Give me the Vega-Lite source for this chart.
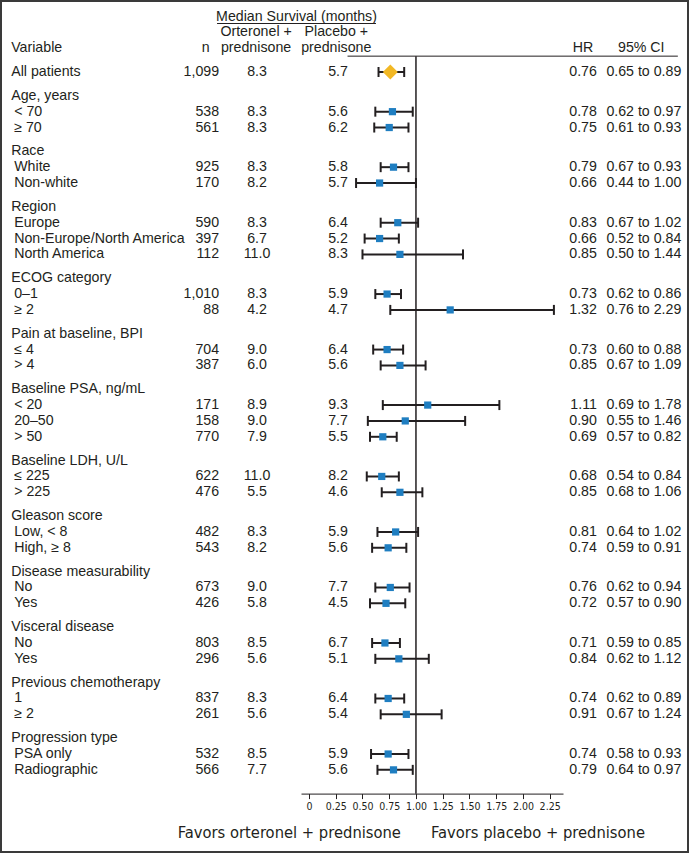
{
  "$schema": "https://vega.github.io/schema/vega-lite/v6.json",
  "width": 689,
  "height": 853,
  "padding": 0,
  "autosize": {"type": "none"},
  "background": "white",
  "config": {
    "view": {"stroke": "#3a3a3a", "strokeWidth": 4},
    "text": {"font": "Liberation Sans", "fontSize": 14.2, "color": "#231f20"}
  },
  "datasets": {
    "rows": [
      {"id": "all", "label": "All patients", "kind": "overall", "n": "1,099", "ort": "8.3", "pla": "5.7", "hr": 0.76, "lo": 0.65, "hi": 0.89, "ci": "0.65 to 0.89"},
      {"id": "age", "label": "Age, years", "kind": "group"},
      {"id": "age_lt70", "label": "< 70", "kind": "item", "n": "538", "ort": "8.3", "pla": "5.6", "hr": 0.78, "lo": 0.62, "hi": 0.97, "ci": "0.62 to 0.97"},
      {"id": "age_ge70", "label": "≥ 70", "kind": "item", "n": "561", "ort": "8.3", "pla": "6.2", "hr": 0.75, "lo": 0.61, "hi": 0.93, "ci": "0.61 to 0.93"},
      {"id": "race", "label": "Race", "kind": "group"},
      {"id": "white", "label": "White", "kind": "item", "n": "925", "ort": "8.3", "pla": "5.8", "hr": 0.79, "lo": 0.67, "hi": 0.93, "ci": "0.67 to 0.93"},
      {"id": "nonwhite", "label": "Non-white", "kind": "item", "n": "170", "ort": "8.2", "pla": "5.7", "hr": 0.66, "lo": 0.44, "hi": 1.00, "ci": "0.44 to 1.00"},
      {"id": "region", "label": "Region", "kind": "group"},
      {"id": "europe", "label": "Europe", "kind": "item", "n": "590", "ort": "8.3", "pla": "6.4", "hr": 0.83, "lo": 0.67, "hi": 1.02, "ci": "0.67 to 1.02"},
      {"id": "noneur", "label": "Non-Europe/North America", "kind": "item", "n": "397", "ort": "6.7", "pla": "5.2", "hr": 0.66, "lo": 0.52, "hi": 0.84, "ci": "0.52 to 0.84"},
      {"id": "na", "label": "North America", "kind": "item", "n": "112", "ort": "11.0", "pla": "8.3", "hr": 0.85, "lo": 0.50, "hi": 1.44, "ci": "0.50 to 1.44"},
      {"id": "ecog", "label": "ECOG category", "kind": "group"},
      {"id": "ecog01", "label": "0–1", "kind": "item", "n": "1,010", "ort": "8.3", "pla": "5.9", "hr": 0.73, "lo": 0.62, "hi": 0.86, "ci": "0.62 to 0.86"},
      {"id": "ecog2", "label": "≥ 2", "kind": "item", "n": "88", "ort": "4.2", "pla": "4.7", "hr": 1.32, "lo": 0.76, "hi": 2.29, "ci": "0.76 to 2.29"},
      {"id": "pain", "label": "Pain at baseline, BPI", "kind": "group"},
      {"id": "pain_le4", "label": "≤ 4", "kind": "item", "n": "704", "ort": "9.0", "pla": "6.4", "hr": 0.73, "lo": 0.60, "hi": 0.88, "ci": "0.60 to 0.88"},
      {"id": "pain_gt4", "label": "> 4", "kind": "item", "n": "387", "ort": "6.0", "pla": "5.6", "hr": 0.85, "lo": 0.67, "hi": 1.09, "ci": "0.67 to 1.09"},
      {"id": "psa", "label": "Baseline PSA, ng/mL", "kind": "group"},
      {"id": "psa_lt20", "label": "< 20", "kind": "item", "n": "171", "ort": "8.9", "pla": "9.3", "hr": 1.11, "lo": 0.69, "hi": 1.78, "ci": "0.69 to 1.78"},
      {"id": "psa_2050", "label": "20–50", "kind": "item", "n": "158", "ort": "9.0", "pla": "7.7", "hr": 0.90, "lo": 0.55, "hi": 1.46, "ci": "0.55 to 1.46"},
      {"id": "psa_gt50", "label": "> 50", "kind": "item", "n": "770", "ort": "7.9", "pla": "5.5", "hr": 0.69, "lo": 0.57, "hi": 0.82, "ci": "0.57 to 0.82"},
      {"id": "ldh", "label": "Baseline LDH, U/L", "kind": "group"},
      {"id": "ldh_le225", "label": "≤ 225", "kind": "item", "n": "622", "ort": "11.0", "pla": "8.2", "hr": 0.68, "lo": 0.54, "hi": 0.84, "ci": "0.54 to 0.84"},
      {"id": "ldh_gt225", "label": "> 225", "kind": "item", "n": "476", "ort": "5.5", "pla": "4.6", "hr": 0.85, "lo": 0.68, "hi": 1.06, "ci": "0.68 to 1.06"},
      {"id": "gleason", "label": "Gleason score", "kind": "group"},
      {"id": "gl_low", "label": "Low, < 8", "kind": "item", "n": "482", "ort": "8.3", "pla": "5.9", "hr": 0.81, "lo": 0.64, "hi": 1.02, "ci": "0.64 to 1.02"},
      {"id": "gl_high", "label": "High, ≥ 8", "kind": "item", "n": "543", "ort": "8.2", "pla": "5.6", "hr": 0.74, "lo": 0.59, "hi": 0.91, "ci": "0.59 to 0.91"},
      {"id": "meas", "label": "Disease measurability", "kind": "group"},
      {"id": "meas_no", "label": "No", "kind": "item", "n": "673", "ort": "9.0", "pla": "7.7", "hr": 0.76, "lo": 0.62, "hi": 0.94, "ci": "0.62 to 0.94"},
      {"id": "meas_yes", "label": "Yes", "kind": "item", "n": "426", "ort": "5.8", "pla": "4.5", "hr": 0.72, "lo": 0.57, "hi": 0.90, "ci": "0.57 to 0.90"},
      {"id": "visc", "label": "Visceral disease", "kind": "group"},
      {"id": "visc_no", "label": "No", "kind": "item", "n": "803", "ort": "8.5", "pla": "6.7", "hr": 0.71, "lo": 0.59, "hi": 0.85, "ci": "0.59 to 0.85"},
      {"id": "visc_yes", "label": "Yes", "kind": "item", "n": "296", "ort": "5.6", "pla": "5.1", "hr": 0.84, "lo": 0.62, "hi": 1.12, "ci": "0.62 to 1.12"},
      {"id": "chemo", "label": "Previous chemotherapy", "kind": "group"},
      {"id": "chemo_1", "label": "1", "kind": "item", "n": "837", "ort": "8.3", "pla": "6.4", "hr": 0.74, "lo": 0.62, "hi": 0.89, "ci": "0.62 to 0.89"},
      {"id": "chemo_2", "label": "≥ 2", "kind": "item", "n": "261", "ort": "5.6", "pla": "5.4", "hr": 0.91, "lo": 0.67, "hi": 1.24, "ci": "0.67 to 1.24"},
      {"id": "prog", "label": "Progression type", "kind": "group"},
      {"id": "prog_psa", "label": "PSA only", "kind": "item", "n": "532", "ort": "8.5", "pla": "5.9", "hr": 0.74, "lo": 0.58, "hi": 0.93, "ci": "0.58 to 0.93"},
      {"id": "prog_radio", "label": "Radiographic", "kind": "item", "n": "566", "ort": "7.7", "pla": "5.6", "hr": 0.79, "lo": 0.64, "hi": 0.97, "ci": "0.64 to 0.97"}
    ],
    "headers": [
      {"id": "h1", "col": "span", "text": "Median Survival (months)"},
      {"id": "h2", "col": "ort", "text": "Orteronel +"},
      {"id": "h2", "col": "pla", "text": "Placebo +"},
      {"id": "h3", "col": "variable", "text": "Variable"},
      {"id": "h3", "col": "n", "text": "n"},
      {"id": "h3", "col": "ort", "text": "prednisone"},
      {"id": "h3", "col": "pla", "text": "prednisone"},
      {"id": "h3", "col": "hr", "text": "HR"},
      {"id": "h3", "col": "ci", "text": "95% CI"}
    ],
    "footer": [
      {"id": "footer", "side": "left", "text": "Favors orteronel + prednisone"},
      {"id": "footer", "side": "right", "text": "Favors placebo + prednisone"}
    ]
  },
  "encoding": {
    "y": {
      "field": "id",
      "type": "nominal",
      "axis": null,
      "scale": {
        "type": "point",
        "padding": 0,
        "range": [16.5, 833.3],
        "domain": ["h1","s1","h2","s3","h3","rule","s6","all","s8","s9","age","s11","age_lt70","s13","age_ge70","s15","s16","race","s18","white","s20","nonwhite","s22","s23","region","s25","europe","s27","noneur","s29","na","s31","s32","ecog","s34","ecog01","s36","ecog2","s38","s39","pain","s41","pain_le4","s43","pain_gt4","s45","s46","psa","s48","psa_lt20","s50","psa_2050","s52","psa_gt50","s54","s55","ldh","s57","ldh_le225","s59","ldh_gt225","s61","s62","gleason","s64","gl_low","s66","gl_high","s68","s69","meas","s71","meas_no","s73","meas_yes","s75","s76","visc","s78","visc_no","s80","visc_yes","s82","s83","chemo","s85","chemo_1","s87","chemo_2","s89","s90","prog","s92","prog_psa","s94","prog_radio","s96","s97","axis","s99","s100","s101","s102","footer"]
      }
    }
  },
  "layer": [
    {
      "data": {"name": "rows"},
      "transform": [{"filter": "datum.kind != 'group'"}],
      "mark": {"type": "rule", "color": "#231f20", "strokeWidth": 2},
      "encoding": {
        "x": {
          "field": "lo",
          "type": "quantitative",
          "scale": {"domain": [-0.075, 2.375], "range": [301, 563], "nice": false, "zero": false, "clamp": false},
          "axis": {
            "values": [0, 0.25, 0.5, 0.75, 1, 1.25, 1.5, 1.75, 2, 2.25],
            "labelExpr": "datum.value == 0 ? '0' : format(datum.value, '.2f')",
            "title": null,
            "grid": false,
            "offset": -59.4,
            "domainColor": "#231f20",
            "domainWidth": 1,
            "tickColor": "#231f20",
            "tickWidth": 1,
            "tickSize": 5,
            "labelFont": "Liberation Sans Narrow, DejaVu Sans Condensed, sans-serif",
            "labelFontSize": 10.5,
            "labelColor": "#231f20",
            "labelPadding": 3
          }
        },
        "x2": {"field": "hi"}
      }
    },
    {
      "data": {"values": [{}]},
      "mark": {"type": "rule", "color": "#231f20", "strokeWidth": 1.5},
      "encoding": {"x": {"datum": 1, "type": "quantitative"}, "y": {"datum": "rule"}, "y2": {"datum": "axis"}}
    },
    {
      "data": {"values": [{}]},
      "mark": {"type": "rule", "color": "#231f20", "strokeWidth": 1},
      "encoding": {"x": {"datum": 0.36, "type": "quantitative"}, "x2": {"datum": 3.449}, "y": {"datum": "rule"}}
    },
    {
      "data": {"values": [{}]},
      "mark": {"type": "rule", "color": "#231f20", "strokeWidth": 1, "yOffset": 7},
      "encoding": {"x": {"datum": -0.86, "type": "quantitative"}, "x2": {"datum": 0.626}, "y": {"datum": "h1"}}
    },
    {
      "data": {"name": "rows"},
      "transform": [{"filter": "datum.kind != 'group'"}],
      "mark": {"type": "tick", "color": "#231f20", "thickness": 2, "size": 10, "opacity": 1},
      "encoding": {"x": {"field": "lo", "type": "quantitative"}}
    },
    {
      "data": {"name": "rows"},
      "transform": [{"filter": "datum.kind != 'group'"}],
      "mark": {"type": "tick", "color": "#231f20", "thickness": 2, "size": 10, "opacity": 1},
      "encoding": {"x": {"field": "hi", "type": "quantitative"}}
    },
    {
      "data": {"name": "rows"},
      "transform": [{"filter": "datum.kind == 'item'"}],
      "mark": {"type": "point", "shape": "square", "filled": true, "color": "#1f7ec1", "size": 52, "opacity": 1},
      "encoding": {"x": {"field": "hr", "type": "quantitative"}}
    },
    {
      "data": {"name": "rows"},
      "transform": [{"filter": "datum.kind == 'overall'"}],
      "mark": {"type": "point", "shape": "diamond", "filled": true, "color": "#f2b824", "size": 225, "opacity": 1},
      "encoding": {"x": {"field": "hr", "type": "quantitative"}}
    },
    {
      "data": {"name": "rows"},
      "transform": [{"filter": "datum.kind != 'item'"}],
      "mark": {"type": "text", "align": "left"},
      "encoding": {"x": {"datum": -2.785, "type": "quantitative"}, "text": {"field": "label"}}
    },
    {
      "data": {"name": "rows"},
      "transform": [{"filter": "datum.kind == 'item'"}],
      "mark": {"type": "text", "align": "left", "dx": 3},
      "encoding": {"x": {"datum": -2.785, "type": "quantitative"}, "text": {"field": "label"}}
    },
    {
      "data": {"name": "rows"},
      "transform": [{"filter": "datum.kind != 'group'"}],
      "mark": {"type": "text", "align": "right"},
      "encoding": {"x": {"datum": -0.841, "type": "quantitative"}, "text": {"field": "n"}}
    },
    {
      "data": {"name": "rows"},
      "transform": [{"filter": "datum.kind != 'group'"}],
      "mark": {"type": "text", "align": "center"},
      "encoding": {"x": {"datum": -0.486, "type": "quantitative"}, "text": {"field": "ort"}}
    },
    {
      "data": {"name": "rows"},
      "transform": [{"filter": "datum.kind != 'group'"}],
      "mark": {"type": "text", "align": "center"},
      "encoding": {"x": {"datum": 0.271, "type": "quantitative"}, "text": {"field": "pla"}}
    },
    {
      "data": {"name": "rows"},
      "transform": [{"filter": "datum.kind != 'group'"}],
      "mark": {"type": "text", "align": "right"},
      "encoding": {"x": {"datum": 2.692, "type": "quantitative"}, "text": {"field": "hr", "format": ".2f"}}
    },
    {
      "data": {"name": "rows"},
      "transform": [{"filter": "datum.kind != 'group'"}],
      "mark": {"type": "text", "align": "center"},
      "encoding": {"x": {"datum": 3.131, "type": "quantitative"}, "text": {"field": "ci"}}
    },
    {
      "data": {"name": "headers"},
      "transform": [{"filter": "datum.col == 'span'"}],
      "mark": {"type": "text", "align": "center"},
      "encoding": {"x": {"datum": -0.117, "type": "quantitative"}, "text": {"field": "text"}}
    },
    {
      "data": {"name": "headers"},
      "transform": [{"filter": "datum.col == 'variable'"}],
      "mark": {"type": "text", "align": "left"},
      "encoding": {"x": {"datum": -2.785, "type": "quantitative"}, "text": {"field": "text"}}
    },
    {
      "data": {"name": "headers"},
      "transform": [{"filter": "datum.col == 'n'"}],
      "mark": {"type": "text", "align": "center"},
      "encoding": {"x": {"datum": -0.967, "type": "quantitative"}, "text": {"field": "text"}}
    },
    {
      "data": {"name": "headers"},
      "transform": [{"filter": "datum.col == 'ort'"}],
      "mark": {"type": "text", "align": "center"},
      "encoding": {"x": {"datum": -0.495, "type": "quantitative"}, "text": {"field": "text"}}
    },
    {
      "data": {"name": "headers"},
      "transform": [{"filter": "datum.col == 'pla'"}],
      "mark": {"type": "text", "align": "center"},
      "encoding": {"x": {"datum": 0.255, "type": "quantitative"}, "text": {"field": "text"}}
    },
    {
      "data": {"name": "headers"},
      "transform": [{"filter": "datum.col == 'hr'"}],
      "mark": {"type": "text", "align": "center"},
      "encoding": {"x": {"datum": 2.561, "type": "quantitative"}, "text": {"field": "text"}}
    },
    {
      "data": {"name": "headers"},
      "transform": [{"filter": "datum.col == 'ci'"}],
      "mark": {"type": "text", "align": "center"},
      "encoding": {"x": {"datum": 3.107, "type": "quantitative"}, "text": {"field": "text"}}
    },
    {
      "data": {"name": "footer"},
      "transform": [{"filter": "datum.side == 'left'"}],
      "mark": {"type": "text", "align": "right", "dx": -15, "font": "Liberation Sans Narrow, DejaVu Sans Condensed, sans-serif", "fontSize": 16.4},
      "encoding": {"x": {"datum": 1, "type": "quantitative"}, "text": {"field": "text"}}
    },
    {
      "data": {"name": "footer"},
      "transform": [{"filter": "datum.side == 'right'"}],
      "mark": {"type": "text", "align": "left", "dx": 15, "font": "Liberation Sans Narrow, DejaVu Sans Condensed, sans-serif", "fontSize": 16.4},
      "encoding": {"x": {"datum": 1, "type": "quantitative"}, "text": {"field": "text"}}
    }
  ]
}
